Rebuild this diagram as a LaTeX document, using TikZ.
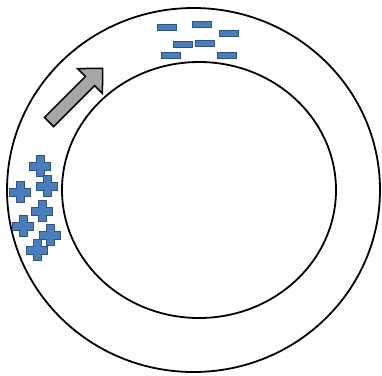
\documentclass[tikz,border=0pt]{standalone}
\definecolor{chargefill}{HTML}{4A7EBB}
\definecolor{chargeedge}{HTML}{2F528F}
\definecolor{arrowfill}{HTML}{A6A6A6}
\tikzset{
  ring/.style={draw=black, line width=1.8pt},
  minuscharge/.style={draw=chargeedge, fill=chargefill, line width=0.8pt, minimum width=19pt, minimum height=6.2pt, inner sep=0pt, rectangle},
  pluscharge/.style={draw=chargeedge, fill=chargefill, line width=0.8pt, line join=miter},
  chargeplus/.pic={\path[pluscharge] (-3.9,-10.3) -- (3.9,-10.3) -- (3.9,-3.9) -- (10.3,-3.9) -- (10.3,3.9) -- (3.9,3.9) -- (3.9,10.3) -- (-3.9,10.3) -- (-3.9,3.9) -- (-10.3,3.9) -- (-10.3,-3.9) -- (-3.9,-3.9) -- cycle;},
  flowarrow/.style={draw=black, fill=arrowfill, line width=1.5pt, line join=miter}
}
\begin{document}
\begin{tikzpicture}[x=1pt,y=-1pt]
\useasboundingbox (0,0) rectangle (382,375);
% rings
\draw[ring] (193.5,190) ellipse [x radius=186.5, y radius=182];
\draw[ring] (199,190) ellipse [x radius=137, y radius=128];
% negative charges
\node[minuscharge] (m1) at (167,27) {};
\node[minuscharge] (m2) at (202,24) {};
\node[minuscharge] (m3) at (229,33) {};
\node[minuscharge] (m4) at (183,44) {};
\node[minuscharge] (m5) at (205,43) {};
\node[minuscharge] (m6) at (171,55) {};
\node[minuscharge] (m7) at (227,55) {};
% positive charges
\pic (p1) at (40,166) {chargeplus};
\pic (p2) at (47,186) {chargeplus};
\pic (p3) at (20,192) {chargeplus};
\pic (p4) at (42,211) {chargeplus};
\pic (p5) at (23,226) {chargeplus};
\pic (p6) at (50,235) {chargeplus};
\pic (p7) at (37,250) {chargeplus};
% arrow
\begin{scope}[shift={(49,122)}, rotate=45]
\path[flowarrow] (0,-6.5) -- (58,-6.5) -- (58,-17.5) -- (76,0) -- (58,17.5) -- (58,6.5) -- (0,6.5) -- cycle;
\end{scope}
\end{tikzpicture}
\end{document}
